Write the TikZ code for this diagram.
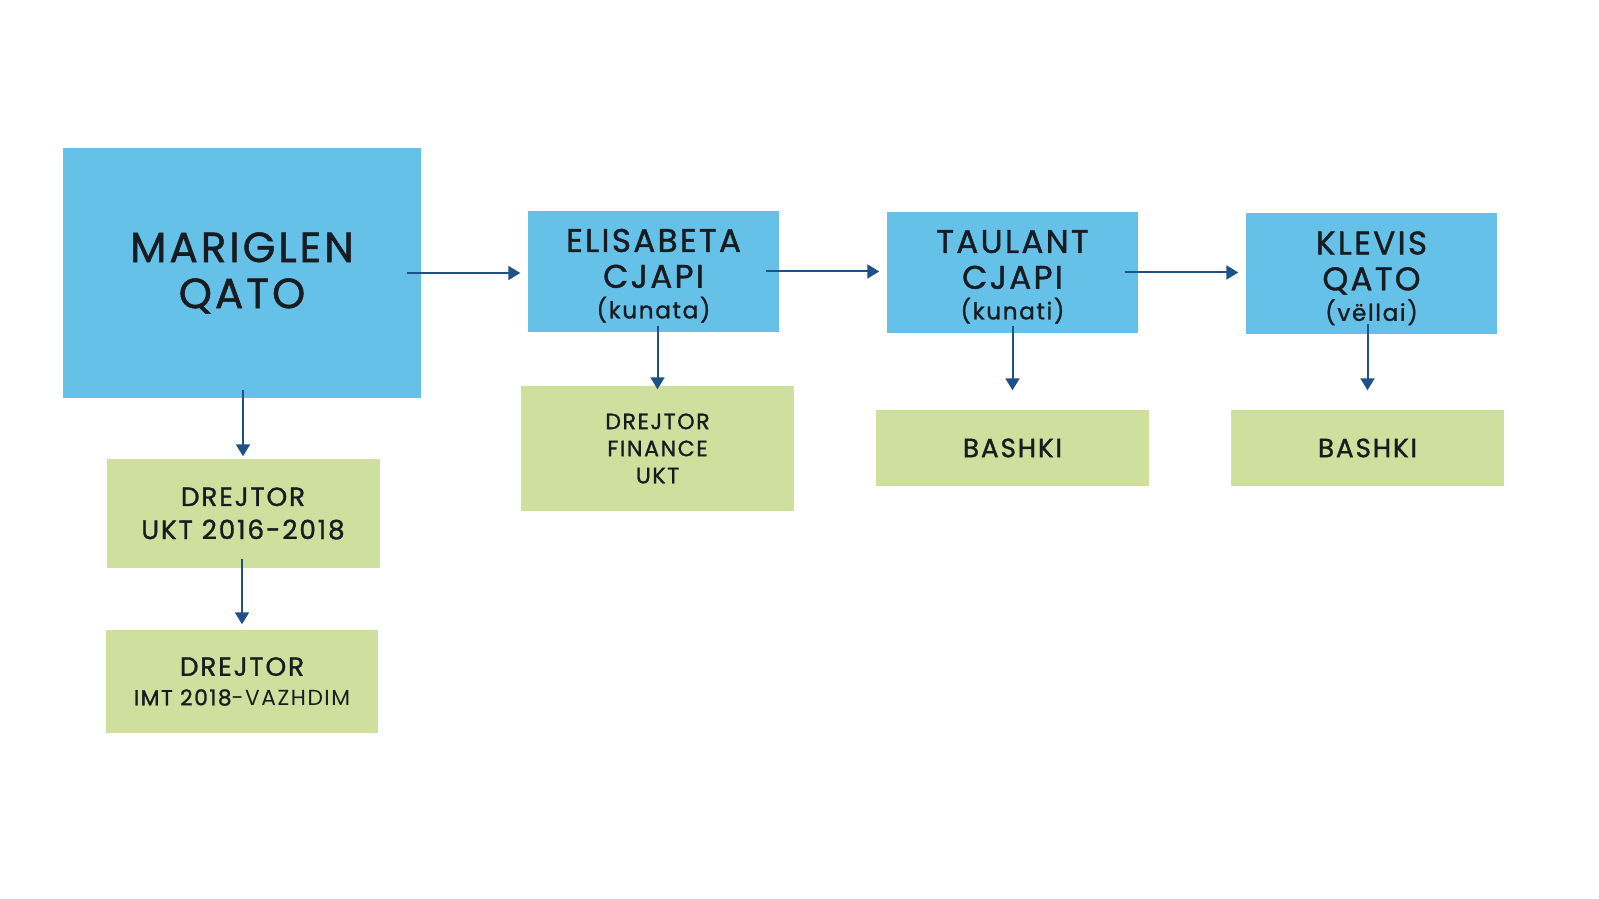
\documentclass[tikz,border=0pt]{standalone}
\usepackage{fontspec}
\setmainfont{Poppins}[LetterSpace=7, FakeBold=1.2]
\newfontfamily\thinfont{Poppins}[LetterSpace=7]
\usetikzlibrary{arrows.meta}

\definecolor{boxblue}{RGB}{101,193,232}
\definecolor{jobgreen}{RGB}{207,223,158}
\definecolor{linkblue}{RGB}{30,82,134}
\definecolor{textdark}{RGB}{24,28,32}

\tikzset{
  person/.style={fill=boxblue, text=textdark, inner sep=0pt, align=center,
    minimum width=2.51cm, minimum height=1.21cm},
  job/.style={fill=jobgreen, text=textdark, inner sep=0pt, align=center,
    minimum width=2.73cm},
  link/.style={draw=linkblue, line width=0.02cm,
    -{Triangle[width=0.14cm,length=0.12cm]}}
}

\begin{document}
\begin{tikzpicture}
\useasboundingbox[fill=white] (0,0) rectangle (15.99,-8.99);

% family
\node[person, minimum width=3.58cm, minimum height=2.50cm,
  font={\fontsize{12}{13.1}\selectfont}] (mar) at (2.42,-2.73) {MARIGLEN\\QATO};
\node[person, font={\fontsize{9.3}{10.2}\selectfont}] (eli) at (6.535,-2.715)
  {\rule{0pt}{9pt}ELISABETA\\CJAPI\\[-1.5pt]{\fontsize{6.6}{8}\selectfont (kunata)}};
\node[person, font={\fontsize{9.3}{10.2}\selectfont}] (tau) at (10.125,-2.725)
  {\rule{0pt}{9pt}TAULANT\\CJAPI\\[-1.5pt]{\fontsize{6.6}{8}\selectfont (kunati)}};
\node[person, font={\fontsize{9.3}{10.2}\selectfont}] (kle) at (13.715,-2.74)
  {\rule{0pt}{9pt}KLEVIS\\QATO\\[-1.5pt]{\fontsize{6.6}{8}\selectfont (vëllai)}};

% positions
\node[job, minimum height=1.09cm, font={\fontsize{7.5}{9.4}\selectfont}] (ukt) at (2.43,-5.135)
  {DREJTOR\\UKT 2016-2018};
\node[job, minimum width=2.72cm, minimum height=1.03cm, font={\fontsize{7.5}{8.4}\selectfont}] (imt) at (2.42,-6.815)
  {DREJTOR\\{\fontsize{6.2}{8}\selectfont IMT 2018{\thinfont -VAZHDIM}}};
\node[job, minimum height=1.25cm, font={\fontsize{6.3}{7.7}\selectfont}] (fin) at (6.575,-4.485)
  {DREJTOR\\FINANCE\\UKT};
\node[job, minimum height=0.76cm, font={\fontsize{7.5}{9}\selectfont}] (bsh1) at (10.125,-4.48) {BASHKI};
\node[job, minimum height=0.76cm, font={\fontsize{7.5}{9}\selectfont}] (bsh2) at (13.675,-4.48) {BASHKI};

% links
\draw[link, shorten <=-0.15cm, shorten >=0.07cm] (mar.east) -- (mar.east -| eli.west);
\draw[link, shorten <=-0.14cm, shorten >=0.07cm] (eli.east) -- (eli.east -| tau.west);
\draw[link, shorten <=-0.14cm, shorten >=0.07cm] (tau.east) -- (tau.east -| kle.west);
\draw[link, shorten <=-0.09cm, shorten >=0.02cm] (ukt.north |- mar.south) -- (ukt.north);
\draw[link, shorten <=-0.10cm, shorten >=0.05cm] (imt.north |- ukt.south) -- (imt.north);
\draw[link, shorten <=-0.07cm, shorten >=-0.04cm] (fin.north |- eli.south) -- (fin.north);
\draw[link, shorten <=-0.08cm, shorten >=0.19cm] (bsh1.north |- tau.south) -- (bsh1.north);
\draw[link, shorten <=-0.11cm, shorten >=0.19cm] (bsh2.north |- kle.south) -- (bsh2.north);

\end{tikzpicture}
\end{document}
